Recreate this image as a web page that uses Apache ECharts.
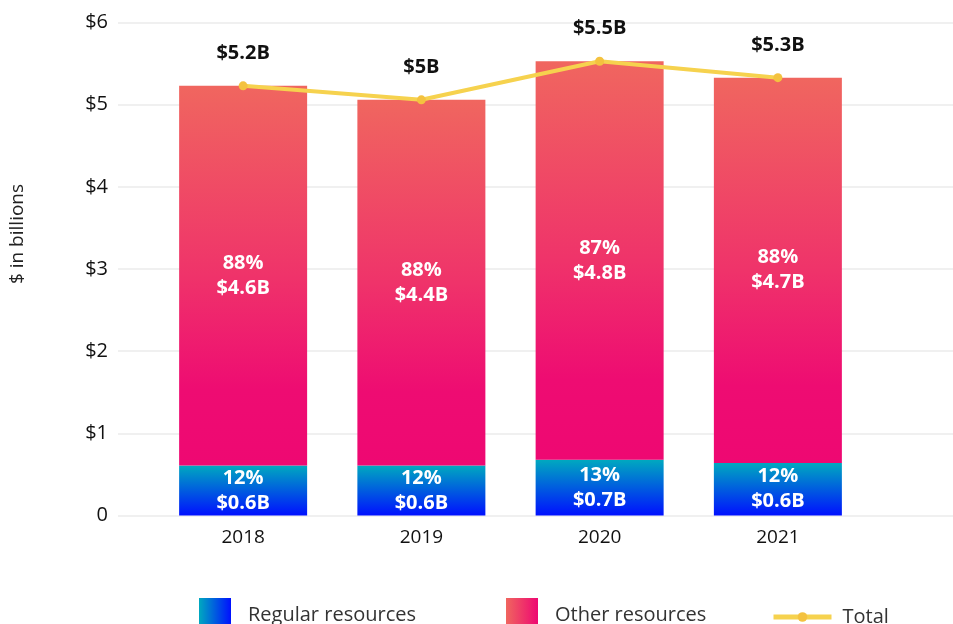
<!DOCTYPE html>
<html>
<head>
<meta charset="utf-8">
<script src="https://cdn.jsdelivr.net/npm/echarts@6/dist/echarts.min.js"></script>
<style>
html,body{margin:0;padding:0;background:#fff;}
#chart{width:953px;height:624px;}
</style>
</head>
<body>
<div id="chart"></div>
<script>
var categories = ['2018', '2019', '2020', '2021'];
var regularValues = [0.61, 0.61, 0.68, 0.64];
var otherValues = [4.62, 4.45, 4.85, 4.69];
var totalValues = [5.23, 5.06, 5.53, 5.33];
var regularPct = ['12%', '12%', '13%', '12%'];
var regularLabel = ['$0.6B', '$0.6B', '$0.7B', '$0.6B'];
var otherPct = ['88%', '88%', '87%', '88%'];
var otherLabel = ['$4.6B', '$4.4B', '$4.8B', '$4.7B'];
var totalLabel = ['$5.2B', '$5B', '$5.5B', '$5.3B'];
var yTicks = [0, 1, 2, 3, 4, 5, 6];

var FONT = '"Open Sans", sans-serif';
var chart = echarts.init(document.getElementById('chart'));

function vgrad(stops) {
  return new echarts.graphic.LinearGradient(0, 0, 0, 1, stops);
}
function hgrad(c0, c1) {
  return new echarts.graphic.LinearGradient(0, 0, 1, 0, [{offset: 0, color: c0}, {offset: 1, color: c1}]);
}

var regularColor = vgrad([{offset: 0, color: '#00A9BF'}, {offset: 1, color: '#0010FF'}]);
var otherColor = vgrad([
  {offset: 0, color: '#F0665F'},
  {offset: 0.5, color: '#EF336A'},
  {offset: 0.8, color: '#EE0C72'},
  {offset: 1, color: '#EE0872'}
]);

var labelRich = {
  w: {color: '#fff', fontWeight: 'bold', fontSize: 20, fontFamily: FONT, lineHeight: 25}
};

var option = {
  animation: false,
  backgroundColor: '#fff',
  textStyle: {fontFamily: FONT},
  grid: [
    {left: 118, right: 0, top: 22.6, bottom: 108.5},
    {left: 154, right: 86, top: 22.6, bottom: 108.5}
  ],
  xAxis: [
    {gridIndex: 0, type: 'value', min: 0, max: 1, show: false},
    {
      gridIndex: 1, type: 'category', data: categories,
      axisLine: {show: false}, axisTick: {show: false},
      axisLabel: {color: '#111', fontSize: 19, fontFamily: FONT, margin: 13}
    }
  ],
  yAxis: [
    {
      gridIndex: 0, type: 'value', min: 0, max: 6, interval: 1,
      axisLine: {show: false}, axisTick: {show: false},
      axisLabel: {
        color: '#111', fontSize: 20, fontFamily: FONT, margin: 10,
        formatter: function (v) { return v === 0 ? '0' : '$' + v; }
      },
      splitLine: {lineStyle: {color: '#ebebeb', width: 1.5}}
    },
    {gridIndex: 1, type: 'value', min: 0, max: 6, interval: 1, show: false, splitLine: {show: false}}
  ],
  legend: [
    {
      left: 199, top: 598, padding: 0, itemWidth: 32, itemHeight: 34, icon: 'rect',
      data: [{name: 'Regular resources', itemStyle: {color: hgrad('#00A9BF', '#0010FF')}}],
      textStyle: {color: '#333', fontSize: 20, fontFamily: FONT, padding: [0, 0, 0, 12]}
    },
    {
      left: 506, top: 598, padding: 0, itemWidth: 32, itemHeight: 34, icon: 'rect',
      data: [{name: 'Other resources', itemStyle: {color: hgrad('#F0665F', '#EE0872')}}],
      textStyle: {color: '#333', fontSize: 20, fontFamily: FONT, padding: [0, 0, 0, 12]}
    },
    {
      left: 771, top: 607, padding: 0, itemWidth: 58, itemHeight: 12,
      data: [{name: 'Total', lineStyle: {width: 5, color: '#F6D24E'}, itemStyle: {color: '#F4C23F'}}],
      textStyle: {color: '#333', fontSize: 20, fontFamily: FONT, padding: [0, 0, 0, 6]}
    }
  ],
  graphic: [{
    type: 'text', x: 18, y: 234, rotation: Math.PI / 2,
    style: {text: '$ in billions', fill: '#222', font: '19px "Open Sans", sans-serif', textAlign: 'center', textVerticalAlign: 'middle'}
  }],
  series: [
    {
      name: 'Regular resources', type: 'bar', stack: 'a', xAxisIndex: 1, yAxisIndex: 1,
      barWidth: 128, data: regularValues,
      itemStyle: {color: regularColor},
      label: {
        show: true, position: 'inside',
        formatter: function (p) { return '{w|' + regularPct[p.dataIndex] + '}\n{w|' + regularLabel[p.dataIndex] + '}'; },
        rich: labelRich
      }
    },
    {
      name: 'Other resources', type: 'bar', stack: 'a', xAxisIndex: 1, yAxisIndex: 1,
      barWidth: 128, data: otherValues,
      itemStyle: {color: otherColor},
      label: {
        show: true, position: 'inside',
        formatter: function (p) { return '{w|' + otherPct[p.dataIndex] + '}\n{w|' + otherLabel[p.dataIndex] + '}'; },
        rich: labelRich
      }
    },
    {
      name: 'Total', type: 'line', xAxisIndex: 1, yAxisIndex: 1, z: 5,
      data: totalValues,
      symbol: 'circle', symbolSize: 9,
      lineStyle: {color: '#F6D24E', width: 4},
      itemStyle: {color: '#F4C23F'},
      label: {
        show: true, position: 'top', distance: 18,
        color: '#111', fontWeight: 'bold', fontSize: 20, fontFamily: FONT,
        formatter: function (p) { return totalLabel[p.dataIndex]; }
      }
    }
  ]
};
chart.setOption(option);
</script>
</body>
</html>
